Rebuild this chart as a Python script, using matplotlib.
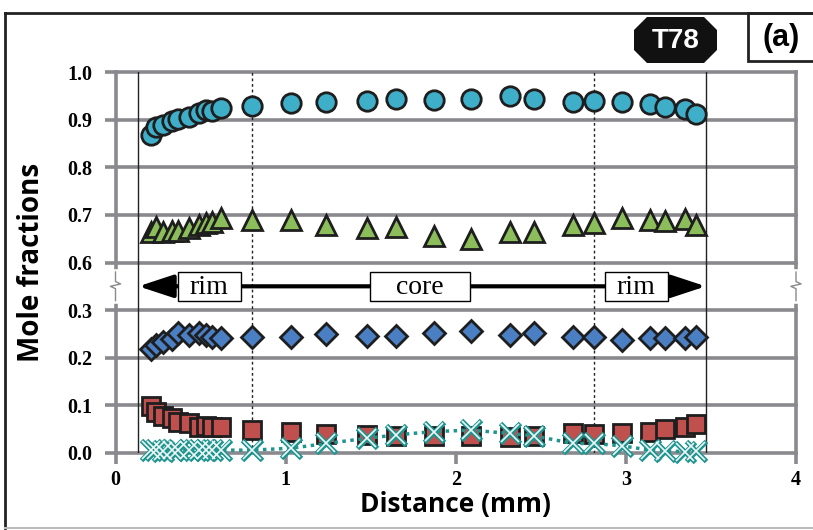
import numpy as np
import matplotlib
matplotlib.use("Agg")
import matplotlib.pyplot as plt
from matplotlib.patches import Rectangle, Polygon
from matplotlib.lines import Line2D

# Distance along the profile (mm), shared by all series
dist = [0.21, 0.24, 0.28, 0.33, 0.37, 0.43, 0.49, 0.53, 0.57, 0.62,
        0.80, 1.03, 1.24, 1.48, 1.65, 1.87, 2.09, 2.32, 2.46, 2.69,
        2.81, 2.98, 3.14, 3.23, 3.35, 3.41]

# mole fractions
circles = [0.867, 0.884, 0.889, 0.897, 0.902, 0.905, 0.914, 0.920, 0.919, 0.924,
           0.929, 0.935, 0.938, 0.940, 0.943, 0.941, 0.943, 0.949, 0.943, 0.936,
           0.939, 0.936, 0.933, 0.926, 0.923, 0.912]
triangles = [0.665, 0.675, 0.665, 0.667, 0.667, 0.672, 0.679, 0.683, 0.684, 0.693,
             0.690, 0.690, 0.679, 0.672, 0.674, 0.656, 0.649, 0.665, 0.663, 0.679,
             0.683, 0.693, 0.690, 0.688, 0.691, 0.679]
diamonds = [0.218, 0.227, 0.234, 0.240, 0.251, 0.248, 0.251, 0.248, 0.244, 0.241,
            0.244, 0.243, 0.249, 0.246, 0.246, 0.252, 0.256, 0.248, 0.251, 0.244,
            0.243, 0.237, 0.241, 0.241, 0.241, 0.243]
squares = [0.099, 0.087, 0.078, 0.073, 0.066, 0.062, 0.055, 0.056, 0.055, 0.054,
           0.048, 0.045, 0.040, 0.038, 0.036, 0.036, 0.036, 0.033, 0.036, 0.041,
           0.040, 0.043, 0.045, 0.050, 0.054, 0.061]
crosses = [0.006, 0.006, 0.005, 0.006, 0.006, 0.006, 0.006, 0.006, 0.006, 0.006,
           0.006, 0.010, 0.020, 0.031, 0.038, 0.045, 0.048, 0.041, 0.036, 0.020,
           0.020, 0.015, 0.006, 0.004, 0.003, 0.004]

ytick_labels = ['0.0', '0.1', '0.2', '0.3', '0.6', '0.7', '0.8', '0.9', '1.0']
xtick_labels = ['0', '1', '2', '3', '4']

rim_edges = [0.135, 3.47]
core_edges = [0.80, 2.81]


def brk(v):
    # axis is broken between 0.3 and 0.6: upper values shift down by 0.2
    v = np.asarray(v)
    return np.where(v > 0.45, v - 0.2, v)


GRAY = '#8a8a8e'
TEAL = '#1f9590'
serif = ['Liberation Serif', 'DejaVu Serif']
sans = ['Open Sans', 'DejaVu Sans']

fig = plt.figure(figsize=(8.13, 5.3), dpi=100)
ax = fig.add_axes([115.5 / 813, 1 - 453 / 530, 680.5 / 813, 381 / 530])
ax.set_xlim(0, 4)
ax.set_ylim(0, 0.8)

# horizontal grid
yt = np.arange(9) * 0.1
for y in yt:
    ax.axhline(y, color=GRAY, lw=2.6, zorder=1, clip_on=False)

for s in ['top', 'bottom']:
    ax.spines[s].set_visible(False)
for s in ['left', 'right']:
    ax.spines[s].set_color(GRAY)
    ax.spines[s].set_linewidth(2.6)

ax.set_yticks(yt)
ax.set_yticklabels(ytick_labels, fontfamily=serif, fontweight='bold', fontsize=14.5)
ax.set_xticks([0, 1, 2, 3, 4])
ax.set_xticklabels(xtick_labels, fontfamily=serif, fontweight='bold', fontsize=14.5)
ax.tick_params(axis='both', direction='out', length=8, width=2.6, color=GRAY, pad=4)
ax.tick_params(axis='y', pad=9)

# axis break marks
for xb in [0, 4]:
    ax.plot([xb, xb], [0.32, 0.38], color='white', lw=4, zorder=5, clip_on=False)
    ax.plot([xb, xb, xb - 0.03, xb + 0.03, xb, xb],
            [0.32, 0.345, 0.35, 0.355, 0.36, 0.38],
            color=GRAY, lw=1, zorder=6, clip_on=False)

# rim / core boundary lines
for xv in rim_edges:
    ax.axvline(xv, color='#222222', lw=1, zorder=2)
for xv in core_edges:
    ax.axvline(xv, color='#222222', lw=1, ls=(0, (2, 2)), zorder=2)

# double arrow with labels
ax.annotate('', xy=(rim_edges[0], 0.35), xytext=(rim_edges[1], 0.35),
            arrowprops=dict(arrowstyle='<|-|>,head_length=0.85,head_width=0.28',
                            mutation_scale=25, lw=3, color='black',
                            shrinkA=0, shrinkB=0), zorder=3)
for cx, w, lab in [(0.55, 0.37, 'rim'), (1.79, 0.59, 'core'), (3.06, 0.37, 'rim')]:
    ax.add_patch(Rectangle((cx - w / 2, 0.35 - 0.031), w, 0.062, facecolor='white',
                           edgecolor='black', lw=1, zorder=4))
    ax.text(cx, 0.347, lab, ha='center', va='center', fontfamily=serif,
            fontsize=20, zorder=5)

edge = '#1e1e1e'
ax.plot(dist, brk(circles), 'o', ms=14, mfc='#3eaec9', mec=edge, mew=2, zorder=7)
ax.plot(dist, brk(triangles), '^', ms=14.5, mfc='#8cbd5b', mec=edge, mew=2, zorder=7)
ax.plot(dist, diamonds, 'D', ms=11.5, mfc='#4a7fc3', mec=edge, mew=2, zorder=7)
ax.plot(dist, squares, 's', ms=13.5, mfc='#c0504d', mec=edge, mew=2, zorder=7)
ax.plot(dist, crosses, ls=(0, (1, 1.3)), lw=2.5, color=TEAL, zorder=8)
# hollow-looking crosses: a thick teal x with a thin light x on top
ax.plot(dist, crosses, 'x', ms=14, mec=TEAL, mew=3.6, ls='none', zorder=9, clip_on=False)
ax.plot(dist, crosses, 'x', ms=13, mec='#eef8f7', mew=1.2, ls='none', zorder=10,
        clip_on=False)

ax.set_ylabel('Mole fractions', fontfamily=sans, fontweight='bold', fontsize=20)
ax.yaxis.set_label_coords(-0.102, 0.5)
ax.set_xlabel('Distance (mm)', fontfamily=sans, fontweight='bold', fontsize=19)
ax.xaxis.set_label_coords(0.499, -0.099)


# outer frame and badges, in pixel-ish figure coords
def fx(px):
    return px / 813


def fy(py):
    return 1 - py / 530


fig.add_artist(Line2D([fx(5), fx(813)], [fy(13), fy(13)], color='#222222', lw=2))
fig.add_artist(Line2D([fx(5), fx(5)], [fy(13), fy(528)], color='#222222', lw=2))
fig.add_artist(Line2D([fx(5), fx(813)], [fy(528), fy(528)], color='#bbbbbb', lw=1.5))

x0, x1, y0, y1, c = 634, 717, 17, 63, 13
octo = [(x0 + c, y0), (x1 - c, y0), (x1, y0 + c), (x1, y1 - c), (x1 - c, y1),
        (x0 + c, y1), (x0, y1 - c), (x0, y0 + c)]
fig.add_artist(Polygon([(fx(a), fy(b)) for a, b in octo], closed=True,
                       facecolor='#111111', edgecolor='none', transform=fig.transFigure))
fig.text(fx((x0 + x1) / 2), fy(41), 'T78', color='white', ha='center', va='center',
         fontsize=20, fontweight='bold',
         family=['Liberation Sans Narrow', 'Liberation Sans', 'DejaVu Sans'])

fig.add_artist(Rectangle((fx(748), fy(61)), fx(80), 48 / 530, facecolor='white',
                         edgecolor='#222222', lw=2, transform=fig.transFigure))
fig.text(fx(781), fy(38), '(a)', ha='center', va='center', fontsize=22,
         fontweight='bold', family=['Liberation Sans Narrow', 'Liberation Sans', 'DejaVu Sans'])

fig.savefig('out.png', dpi=100)
